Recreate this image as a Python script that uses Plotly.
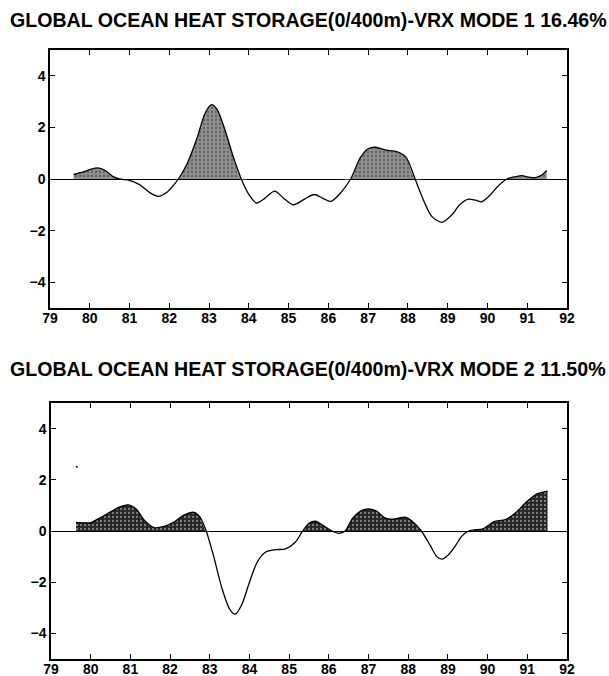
import numpy as np
import plotly.graph_objects as go

# ---- data ----
years_m1 = [79.59, 79.8, 80.0, 80.2, 80.4, 80.6, 80.75, 81.0, 81.25, 81.5, 81.72, 81.95, 82.1, 82.23,
            82.45, 82.7, 82.9, 83.06, 83.2, 83.4, 83.6, 83.81, 84.0, 84.19, 84.4, 84.65, 84.9, 85.12,
            85.4, 85.64, 85.85, 86.06, 86.3, 86.56, 86.8, 87.0, 87.18, 87.45, 87.7, 87.95, 88.18,
            88.4, 88.6, 88.85, 89.1, 89.3, 89.52, 89.7, 89.86, 90.05, 90.25, 90.49, 90.7, 90.86,
            91.05, 91.2, 91.35, 91.49]
mode1 = [0.18, 0.26, 0.36, 0.43, 0.32, 0.08, 0.0, -0.05, -0.22, -0.52, -0.67, -0.5, -0.25, 0.0,
         0.6, 1.6, 2.55, 2.88, 2.7, 1.9, 0.9, 0.0, -0.6, -0.93, -0.75, -0.47, -0.78, -1.0,
         -0.78, -0.6, -0.74, -0.87, -0.55, 0.0, 0.82, 1.17, 1.23, 1.12, 1.07, 0.85, 0.0,
         -0.85, -1.45, -1.68, -1.4, -1.0, -0.78, -0.82, -0.88, -0.65, -0.3, 0.0, 0.09, 0.13,
         0.07, 0.05, 0.14, 0.33]

years_m2 = [79.63, 79.85, 80.0, 80.25, 80.5, 80.75, 80.95, 81.15, 81.35, 81.6, 81.85, 82.1, 82.35,
            82.6, 82.75, 82.91, 83.1, 83.3, 83.5, 83.64, 83.8, 84.0, 84.2, 84.41, 84.65, 84.91,
            85.16, 85.34, 85.5, 85.66, 85.85, 86.08, 86.26, 86.41, 86.6, 86.8, 87.0, 87.2, 87.4,
            87.55, 87.75, 87.92, 88.1, 88.33, 88.55, 88.72, 88.85, 89.0, 89.2, 89.35, 89.52,
            89.7, 89.86, 90.0, 90.15, 90.45, 90.7, 90.99, 91.25, 91.51]
mode2 = [0.34, 0.32, 0.33, 0.52, 0.75, 0.95, 1.02, 0.85, 0.42, 0.13, 0.18, 0.35, 0.62,
         0.73, 0.55, 0.0, -1.0, -2.2, -3.05, -3.25, -2.9, -2.0, -1.2, -0.82, -0.73, -0.70,
         -0.43, 0.0, 0.3, 0.38, 0.22, 0.0, -0.09, 0.0, 0.5, 0.78, 0.86, 0.78, 0.52,
         0.46, 0.5, 0.54, 0.38, 0.0, -0.55, -1.0, -1.1, -0.95, -0.55, -0.2, 0.0,
         0.05, 0.07, 0.2, 0.36, 0.45, 0.7, 1.15, 1.45, 1.56]

speck_x = [79.65]
speck_y = [2.51]

titles = ["GLOBAL OCEAN HEAT STORAGE(0/400m)-VRX MODE 1 16.46%",
          "GLOBAL OCEAN HEAT STORAGE(0/400m)-VRX MODE 2 11.50%"]
x_ticks = list(range(79, 93))
y_ticks = [-4, -2, 0, 2, 4]

W, H = 609, 676
FONT = "Liberation Sans"

fig = go.Figure()

panels = [
    dict(x=years_m1, y=mode1, xa="x", ya="y", fill="#8e8e8e", fg="#333333"),
    dict(x=years_m2, y=mode2, xa="x2", ya="y2", fill="#262626", fg="#dddddd"),
]
for p in panels:
    yp = np.maximum(np.array(p["y"]), 0.0)
    fig.add_trace(go.Scatter(x=p["x"], y=yp, mode="lines", xaxis=p["xa"], yaxis=p["ya"],
                             line=dict(width=0, shape="spline", smoothing=0.8),
                             fill="tozeroy", fillcolor=p["fill"],
                             fillpattern=dict(shape=".", fgcolor=p["fg"], bgcolor=p["fill"],
                                              size=4, solidity=0.25),
                             hoverinfo="skip", showlegend=False))
    fig.add_trace(go.Scatter(x=p["x"], y=p["y"], mode="lines", xaxis=p["xa"], yaxis=p["ya"],
                             line=dict(color="black", width=1.3, shape="spline", smoothing=0.8),
                             showlegend=False))

fig.add_trace(go.Scatter(x=speck_x, y=speck_y, mode="markers", xaxis="x2", yaxis="y2",
                         marker=dict(color="black", size=2), showlegend=False))

def px_dom_x(a, b):
    return [a / W, b / W]

def px_dom_y(top, bottom):
    return [1 - bottom / H, 1 - top / H]

xcommon = dict(range=[79, 92], tickvals=x_ticks, ticks="inside", ticklen=5, tickwidth=1,
               tickcolor="black", showline=True, linecolor="black", linewidth=1.5,
               mirror="ticks", showgrid=False, zeroline=False, automargin=False,
               ticklabelstandoff=-4,
               tickfont=dict(family=FONT, size=14, color="black", weight="bold"))
ycommon = dict(range=[-5, 5], tickvals=y_ticks, ticks="inside", ticklen=5, tickwidth=1,
               tickcolor="black", showline=True, linecolor="black", linewidth=1.5,
               mirror="ticks", showgrid=False, zeroline=True, zerolinecolor="black",
               zerolinewidth=1.2, automargin=False,
               tickfont=dict(family=FONT, size=14, color="black", weight="bold"))

fig.update_layout(
    width=W, height=H,
    margin=dict(l=0, r=0, t=0, b=0),
    paper_bgcolor="white", plot_bgcolor="white",
    xaxis=dict(domain=px_dom_x(50, 567), anchor="y", **xcommon),
    yaxis=dict(domain=px_dom_y(50, 308), anchor="x", **ycommon),
    xaxis2=dict(domain=px_dom_x(51, 567), anchor="y2", **xcommon),
    yaxis2=dict(domain=px_dom_y(403, 659), anchor="x2", **ycommon),
    annotations=[
        dict(text=titles[0], x=308 / W, y=1 - 20 / H, xref="paper", yref="paper",
             showarrow=False, xanchor="center", yanchor="middle",
             font=dict(family=FONT, size=19.6, color="black", weight="bold")),
        dict(text=titles[1], x=308 / W, y=1 - 369 / H, xref="paper", yref="paper",
             showarrow=False, xanchor="center", yanchor="middle",
             font=dict(family=FONT, size=19.6, color="black", weight="bold")),
    ],
)

fig.write_html("out.html", config={"displayModeBar": False},
               post_script="document.body.style.margin='0';document.body.style.overflow='hidden';")
